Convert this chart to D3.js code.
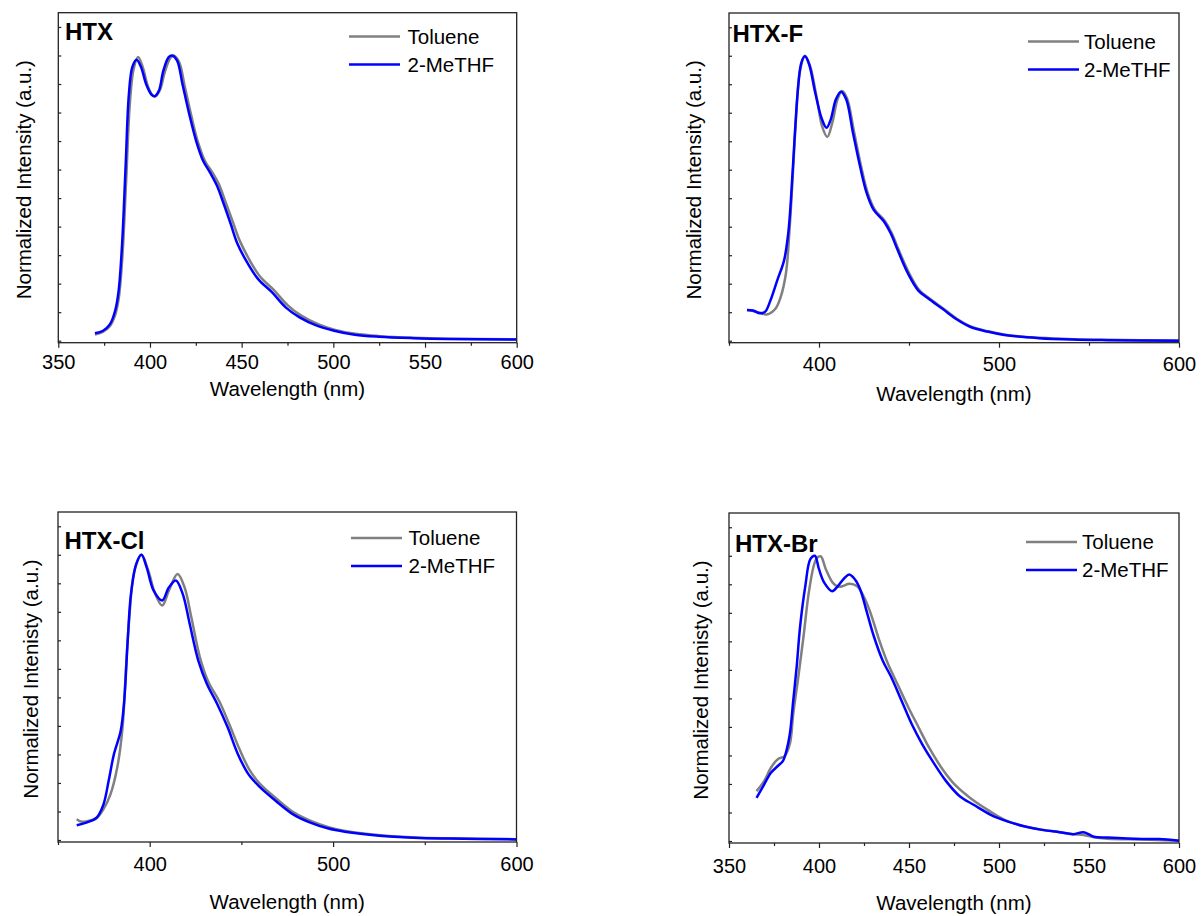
<!DOCTYPE html>
<html>
<head>
<meta charset="utf-8">
<script src="https://cdn.jsdelivr.net/npm/d3@7"></script>
<style>
  body { margin: 0; background: #fff; }
  text { font-family: "Liberation Sans", Arial, sans-serif; }
</style>
</head>
<body>
<div id="chart"></div>
<script>
// panel names and legend
var panelNames = ["HTX", "HTX-F", "HTX-Cl", "HTX-Br"];
var seriesNames = ["Toluene", "2-MeTHF"];
var seriesColors = ["#808080", "#0000ff"];

// HTX
var htxTolWl = [370, 374, 378, 381, 383, 385, 387, 389, 391, 393.5, 396, 399, 401.5, 403, 405.5, 408, 411, 413, 416, 419, 422.5, 426, 430, 434, 437.5, 441, 445, 449, 455, 460, 467.5, 475, 482.5, 492, 501, 512, 525, 544, 562, 600];
var htxTolI = [0.022, 0.03, 0.05, 0.09, 0.15, 0.30, 0.56, 0.83, 0.95, 0.995, 0.96, 0.89, 0.86, 0.857, 0.88, 0.94, 0.99, 1.0, 0.975, 0.89, 0.79, 0.70, 0.63, 0.59, 0.55, 0.49, 0.42, 0.35, 0.275, 0.225, 0.178, 0.125, 0.088, 0.057, 0.038, 0.024, 0.016, 0.01, 0.007, 0.005];
var htxMeWl = [370, 374.4, 378.2, 381, 382.9, 384.8, 386.7, 388.5, 390.4, 392.7, 395.1, 397.9, 400.8, 402.6, 404.9, 407.3, 410.2, 412, 414.8, 417.7, 421.4, 425.2, 428.9, 432.7, 436.5, 440.2, 444, 447.7, 453.4, 459, 466.5, 474, 481.6, 491, 500.4, 511.7, 524.8, 543.6, 562.4, 600];
var htxMeI = [0.026, 0.035, 0.058, 0.105, 0.175, 0.34, 0.61, 0.865, 0.96, 0.985, 0.96, 0.90, 0.863, 0.857, 0.877, 0.947, 0.994, 1.0, 0.982, 0.90, 0.795, 0.70, 0.632, 0.59, 0.544, 0.48, 0.41, 0.34, 0.27, 0.216, 0.17, 0.117, 0.082, 0.053, 0.035, 0.021, 0.014, 0.009, 0.006, 0.004];

// HTX-F
var htxfTolWl = [360, 363.4, 367.2, 371, 375.8, 378.7, 381.6, 383.5, 385.4, 387.3, 389.3, 392.2, 395, 398.9, 401.7, 404.6, 407.4, 410.3, 412.8, 415.6, 419.4, 423.3, 427, 431, 436.6, 440.4, 444.2, 450, 455.7, 461.4, 469, 476.6, 484.3, 494, 503.5, 522.5, 541.5, 560.5, 600];
var htxfTolI = [0.108, 0.104, 0.098, 0.092, 0.112, 0.153, 0.235, 0.376, 0.576, 0.788, 0.941, 1.0, 0.965, 0.847, 0.753, 0.715, 0.765, 0.847, 0.876, 0.85, 0.735, 0.615, 0.52, 0.46, 0.42, 0.378, 0.32, 0.238, 0.178, 0.148, 0.113, 0.077, 0.05, 0.033, 0.021, 0.01, 0.005, 0.003, 0.001];
var htxfMeWl = [360, 363.4, 367.2, 370.1, 373, 376.8, 380.6, 382.9, 384.4, 386.4, 388.3, 390.2, 392.2, 394.5, 397.9, 401.7, 404.2, 406.5, 409.4, 412.2, 415.1, 418.9, 422.8, 426.5, 430.4, 436.1, 439.9, 443.7, 449.5, 455.2, 460.9, 468.6, 476.2, 483.9, 493.5, 503, 522.2, 541.3, 560.4, 600];
var htxfMeI = [0.108, 0.106, 0.096, 0.102, 0.141, 0.212, 0.282, 0.376, 0.494, 0.706, 0.882, 0.976, 0.998, 0.97, 0.87, 0.776, 0.747, 0.776, 0.847, 0.874, 0.847, 0.729, 0.612, 0.518, 0.459, 0.418, 0.376, 0.318, 0.235, 0.176, 0.147, 0.112, 0.076, 0.049, 0.032, 0.02, 0.009, 0.004, 0.002, 0.0];

// HTX-Cl
var htxclTolWl = [360.2, 363, 368, 371, 374.8, 378.6, 382.3, 385.2, 387, 388.9, 391.7, 395.5, 399.2, 403, 406.8, 410.5, 415.2, 419, 422.7, 427.4, 432.1, 437.8, 443.4, 449, 454.5, 460, 469.5, 479, 488.5, 498, 507.5, 526, 545, 564, 600];
var htxclTolI = [0.073, 0.064, 0.069, 0.076, 0.108, 0.16, 0.254, 0.395, 0.594, 0.781, 0.945, 1.0, 0.945, 0.863, 0.822, 0.875, 0.933, 0.886, 0.781, 0.64, 0.553, 0.488, 0.406, 0.318, 0.245, 0.198, 0.143, 0.095, 0.065, 0.044, 0.031, 0.017, 0.009, 0.006, 0.003];
var htxclMeWl = [360.2, 365.4, 371, 374.8, 377.6, 380.5, 384.2, 386.1, 388, 389.8, 392.7, 395.5, 398.3, 402.1, 406.8, 410.5, 414.3, 418, 421.8, 426.5, 431.2, 436.8, 442.5, 448.1, 453.8, 459.4, 468.8, 478.2, 487.6, 497, 506.4, 525.2, 544, 562.8, 600];
var htxclMeI = [0.052, 0.061, 0.078, 0.125, 0.207, 0.301, 0.383, 0.488, 0.699, 0.863, 0.968, 1.0, 0.957, 0.875, 0.84, 0.886, 0.91, 0.863, 0.758, 0.629, 0.547, 0.477, 0.395, 0.301, 0.231, 0.19, 0.137, 0.09, 0.061, 0.041, 0.029, 0.015, 0.008, 0.005, 0.002];

// HTX-Br
var htxbrTolWl = [365.3, 369.5, 373.3, 377.1, 380.9, 383.8, 385.7, 388.5, 391.4, 394.3, 397.1, 399, 401, 403.8, 407.6, 410.5, 413.4, 416.8, 421, 424.8, 428.6, 433.4, 438.2, 443.9, 449.6, 455.3, 461.1, 468.7, 476.3, 484, 493.5, 503.1, 512.6, 522.1, 531.7, 541.2, 547, 552.7, 560.3, 579.4, 600];
var htxbrTolI = [0.175, 0.21, 0.257, 0.287, 0.298, 0.34, 0.446, 0.575, 0.717, 0.87, 0.965, 0.994, 0.998, 0.953, 0.906, 0.892, 0.894, 0.902, 0.894, 0.858, 0.8, 0.705, 0.623, 0.546, 0.469, 0.399, 0.328, 0.251, 0.192, 0.151, 0.11, 0.074, 0.054, 0.041, 0.033, 0.024, 0.021, 0.013, 0.008, 0.005, 0.001];
var htxbrMeWl = [365.3, 369.5, 373.3, 377.1, 380, 381.9, 383.8, 385.7, 387.6, 389.5, 392.4, 395.2, 397.7, 400, 402.9, 407.3, 410.5, 414.3, 416.8, 420, 422.9, 426.7, 430.5, 435.3, 440.1, 445.8, 451.5, 457.3, 463, 470.6, 478.2, 485.9, 495.4, 505, 514.5, 524, 533.6, 541.2, 547, 552.7, 560.3, 579.4, 589, 600];
var htxbrMeI = [0.151, 0.198, 0.239, 0.263, 0.281, 0.316, 0.375, 0.493, 0.611, 0.752, 0.894, 0.988, 1.0, 0.953, 0.906, 0.876, 0.894, 0.923, 0.934, 0.917, 0.882, 0.8, 0.717, 0.634, 0.575, 0.493, 0.41, 0.34, 0.281, 0.21, 0.157, 0.127, 0.092, 0.068, 0.051, 0.039, 0.031, 0.024, 0.031, 0.015, 0.012, 0.007, 0.007, 0.001];

var panelSeries = [
  [[htxTolWl, htxTolI], [htxMeWl, htxMeI]],
  [[htxfTolWl, htxfTolI], [htxfMeWl, htxfMeI]],
  [[htxclTolWl, htxclTolI], [htxclMeWl, htxclMeI]],
  [[htxbrTolWl, htxbrTolI], [htxbrMeWl, htxbrMeI]]
];
var yLabels = ["Normalized Intensity (a.u.)", "Normalized Intensity (a.u.)",
               "Normalized Intenisty (a.u.)", "Normalized Intenisty (a.u.)"];
var xDomain = [350, 600];
var yDomain = [-0.007, 1.15];

// layout of each panel (pixels)
var layout = [
  {left: 58.3, top: 12.7, right: 516.7, bottom: 342.7, major: 50, minor: 25, pad: 7, xlabY: 388.5, ylabX: 24, titleX: 65, titleY: 40, legX: 349, legY: 36.5, legTx: 407.5},
  {left: 729, top: 13, right: 1179, bottom: 342.7, major: 100, minor: 50, pad: 9, xlabY: 394, ylabX: 694, titleX: 732.5, titleY: 41.5, legX: 1028, legY: 41.5, legTx: 1084},
  {left: 58, top: 512, right: 516.5, bottom: 842, major: 100, minor: 50, pad: 10, xlabY: 902, ylabX: 30.5, titleX: 64.5, titleY: 549, legX: 351, legY: 538, legTx: 408.5},
  {left: 729, top: 513, right: 1179, bottom: 843, major: 50, minor: 25, pad: 10.5, xlabY: 903, ylabX: 701, titleX: 735, titleY: 552, legX: 1026, legY: 542, legTx: 1082}
];

var svg = d3.select("#chart").append("svg")
  .attr("width", 1202)
  .attr("height", 916);

panelNames.forEach(function(name, p) {
  var L = layout[p];
  var x = d3.scaleLinear().domain(xDomain).range([L.left, L.right]);
  var y = d3.scaleLinear().domain(yDomain).range([L.bottom, L.top]);
  var g = svg.append("g");

  // minor x ticks
  var minorVals = d3.range(xDomain[0], xDomain[1] + 1, L.minor).filter(function(v) { return v % L.major !== 0; });
  var xm = g.append("g")
    .attr("transform", "translate(0," + L.bottom + ")")
    .call(d3.axisBottom(x).tickValues(minorVals).tickSize(3).tickFormat(""));
  xm.select(".domain").remove();
  xm.selectAll("line").attr("stroke", "#222").attr("stroke-width", 1.2);

  // major x ticks
  var majorVals = d3.range(Math.ceil(xDomain[0] / L.major) * L.major, xDomain[1] + 1, L.major);
  var xa = g.append("g")
    .attr("transform", "translate(0," + L.bottom + ")")
    .call(d3.axisBottom(x).tickValues(majorVals).tickSize(5).tickPadding(L.pad).tickFormat(d3.format("d")));
  xa.select(".domain").remove();
  xa.selectAll("text").attr("fill", "#000")
    .style("font-size", "20px")
    .style("font-family", "'Liberation Sans', Arial, sans-serif");
  xa.selectAll("line").attr("stroke", "#222").attr("stroke-width", 1.2);

  // y ticks (inward, unlabeled)
  var ya = g.append("g")
    .attr("transform", "translate(" + L.left + ",0)")
    .call(d3.axisLeft(y).tickValues(d3.range(0, 1.101, 0.1)).tickSize(-3).tickFormat(""));
  ya.select(".domain").remove();
  ya.selectAll("line").attr("stroke", "#222").attr("stroke-width", 1.2);

  // curves
  var line = d3.line()
    .x(function(d) { return x(d[0]); })
    .y(function(d) { return y(d[1]); })
    .curve(d3.curveCatmullRom.alpha(0.5));

  panelSeries[p].forEach(function(s, k) {
    var pts = s[0].map(function(w, i) { return [w, s[1][i]]; });
    g.append("path")
      .datum(pts)
      .attr("d", line)
      .attr("fill", "none")
      .attr("stroke", seriesColors[k])
      .attr("stroke-width", 2.5)
      .attr("stroke-linejoin", "round");
  });

  // frame
  g.append("rect")
    .attr("x", L.left).attr("y", L.top)
    .attr("width", L.right - L.left).attr("height", L.bottom - L.top)
    .attr("fill", "none").attr("stroke", "#222").attr("stroke-width", 1.3);

  // panel title
  g.append("text")
    .attr("x", L.titleX).attr("y", L.titleY)
    .attr("font-size", "24px").attr("font-weight", "bold")
    .text(name);

  // legend
  seriesNames.forEach(function(sn, k) {
    var ly = L.legY + k * 28;
    g.append("line")
      .attr("x1", L.legX).attr("x2", L.legX + 51)
      .attr("y1", ly).attr("y2", ly)
      .attr("stroke", seriesColors[k]).attr("stroke-width", 2.5);
    g.append("text")
      .attr("x", L.legTx).attr("y", ly).attr("dy", "0.35em")
      .attr("font-size", "20.5px")
      .text(sn);
  });

  // axis titles
  g.append("text")
    .attr("x", (L.left + L.right) / 2).attr("y", L.xlabY).attr("dy", "0.35em")
    .attr("text-anchor", "middle").attr("font-size", "20.5px")
    .text("Wavelength (nm)");

  g.append("text")
    .attr("transform", "translate(" + L.ylabX + "," + ((L.top + L.bottom) / 2 + 2) + ") rotate(-90)")
    .attr("dy", "0.35em")
    .attr("text-anchor", "middle").attr("font-size", "20.5px")
    .text(yLabels[p]);
});
</script>
</body>
</html>
